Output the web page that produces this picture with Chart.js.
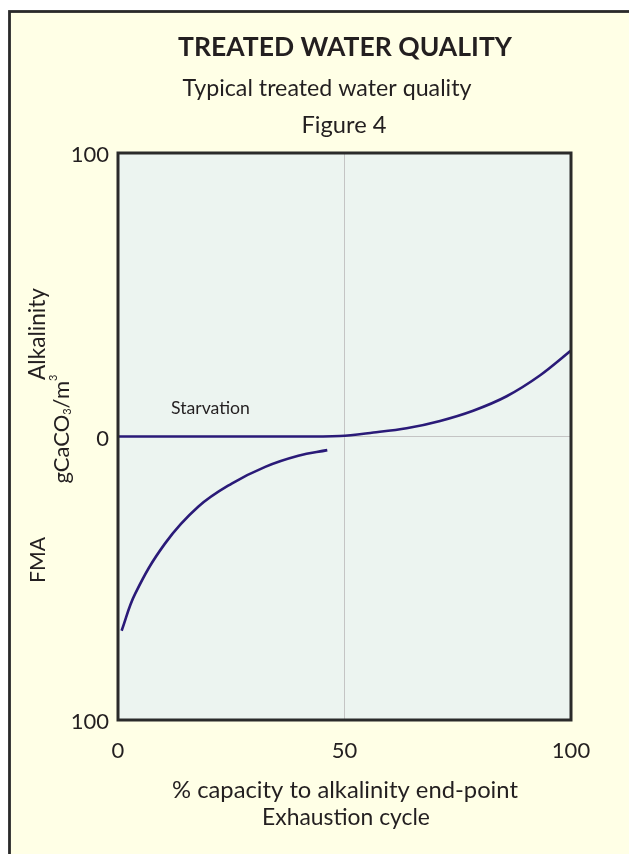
<!DOCTYPE html>
<html>
<head>
<meta charset="utf-8">
<script src="https://cdn.jsdelivr.net/npm/chart.js@4.4.1/dist/chart.umd.min.js"></script>
<style>
  html, body { margin: 0; padding: 0; background: #ffffff; }
  #wrap { width: 629px; height: 854px; }
</style>
</head>
<body>
<div id="wrap"><canvas id="c" width="629" height="854"></canvas></div>
<script>
// ---- Data ----
const alkalinityX = [0, 15, 30, 40, 49, 56.4, 63.7, 71.1, 78.4, 85.8, 93.2, 100];
const alkalinityY = [0, 0, 0, 0, 0.2, 1.4, 2.9, 5.5, 9.1, 14.2, 21.6, 30.3];
const fmaX = [0.8, 3.8, 10.4, 17.7, 25.1, 32.5, 39.8, 46.2];
const fmaY = [-68.5, -55.4, -37.7, -24.8, -16.6, -10.7, -6.8, -4.8];
const xTickValues = [0, 50, 100];
const yTickValues = [-100, 0, 100];

const FONT = 'Lato, "Liberation Sans", sans-serif';
const INK = '#231f20';
const LINE = '#2a1a78';

function pts(xs, ys) { return xs.map((x, i) => ({ x: x, y: ys[i] })); }

function fitFont(ctx, text, weight, targetW) {
  ctx.font = weight + ' 100px ' + FONT;
  const w = ctx.measureText(text).width;
  return weight + ' ' + (100 * targetW / w).toFixed(2) + 'px ' + FONT;
}
function drawCentered(ctx, text, weight, targetW, cx, cy) {
  ctx.font = fitFont(ctx, text, weight, targetW);
  ctx.textAlign = 'center';
  ctx.textBaseline = 'middle';
  ctx.fillText(text, cx, cy);
}

const decor = {
  id: 'decor',
  beforeDraw(chart) {
    const ctx = chart.ctx, a = chart.chartArea;
    ctx.save();
    ctx.fillStyle = '#ffffff';
    ctx.fillRect(0, 0, chart.width, chart.height);
    ctx.fillStyle = '#ffffe6';
    ctx.fillRect(9.5, 11.5, chart.width + 20, chart.height + 20);
    ctx.strokeStyle = '#2a2a2a';
    ctx.lineWidth = 2.8;
    ctx.strokeRect(9.5, 11.5, chart.width + 20, chart.height + 20);
    ctx.fillStyle = '#ecf4f0';
    ctx.fillRect(a.left, a.top, a.right - a.left, a.bottom - a.top);
    ctx.restore();
  },
  afterDraw(chart) {
    const ctx = chart.ctx, a = chart.chartArea;
    ctx.save();
    ctx.strokeStyle = '#2a2a2a';
    ctx.lineWidth = 3;
    ctx.strokeRect(a.left, a.top, a.right - a.left, a.bottom - a.top);

    ctx.fillStyle = INK;
    drawCentered(ctx, 'TREATED WATER QUALITY', 'bold', 334, 345, 47);
    drawCentered(ctx, 'Typical treated water quality', 'normal', 289, 327, 89);
    drawCentered(ctx, 'Figure 4', 'normal', 85, 344, 125);

    drawCentered(ctx, '% capacity to alkalinity end-point', 'normal', 346, 345, 790);
    drawCentered(ctx, 'Exhaustion cycle', 'normal', 168, 346, 818);

    // Starvation label
    ctx.font = fitFont(ctx, 'Starvation', 'normal', 79);
    ctx.textAlign = 'left';
    ctx.textBaseline = 'middle';
    ctx.fillText('Starvation', 171, 408);

    // Rotated y-axis titles
    ctx.save();
    ctx.translate(38, 334);
    ctx.rotate(-Math.PI / 2);
    drawCentered(ctx, 'Alkalinity', 'normal', 92, 0, 0);
    ctx.restore();

    ctx.save();
    ctx.translate(38, 560);
    ctx.rotate(-Math.PI / 2);
    drawCentered(ctx, 'FMA', 'normal', 46, 0, 0);
    ctx.restore();

    // gCaCO3/m3 with sub/superscript
    ctx.save();
    ctx.translate(62, 429);
    ctx.rotate(-Math.PI / 2);
    const mainSize = 22, smallSize = 11;
    const parts = [
      { t: 'gCaCO', s: mainSize, dy: 0 },
      { t: '3', s: smallSize, dy: 5 },
      { t: '/m', s: mainSize, dy: 0 },
      { t: '3', s: smallSize, dy: -9 }
    ];
    let total = 0;
    parts.forEach(p => { ctx.font = p.s + 'px ' + FONT; p.w = ctx.measureText(p.t).width; total += p.w; });
    let x = -total / 2;
    ctx.textAlign = 'left';
    ctx.textBaseline = 'middle';
    parts.forEach(p => { ctx.font = p.s + 'px ' + FONT; ctx.fillText(p.t, x, p.dy); x += p.w; });
    ctx.restore();

    ctx.restore();
  }
};

const ctx = document.getElementById('c').getContext('2d');
new Chart(ctx, {
  type: 'scatter',
  data: {
    datasets: [
      { label: 'Alkalinity', data: pts(alkalinityX, alkalinityY), showLine: true, borderColor: LINE, borderWidth: 2.6, pointRadius: 0, cubicInterpolationMode: 'monotone', fill: false },
      { label: 'FMA', data: pts(fmaX, fmaY), showLine: true, borderColor: LINE, borderWidth: 2.6, pointRadius: 0, tension: 0.4, fill: false }
    ]
  },
  options: {
    responsive: false,
    animation: false,
    devicePixelRatio: 1,
    layout: { padding: { left: 0, right: 58, top: 153, bottom: 0 } },
    plugins: { legend: { display: false }, tooltip: { enabled: false }, title: { display: false } },
    scales: {
      x: {
        type: 'linear', min: 0, max: 100,
        afterBuildTicks: s => { s.ticks = xTickValues.map(v => ({ value: v })); },
        afterFit: s => { s.height = 134; },
        ticks: { color: INK, font: { family: FONT, size: 22 }, padding: 18, maxRotation: 0, callback: v => String(v) },
        grid: { drawTicks: false, color: c => (c.tick && c.tick.value === 50 ? '#c4c4c4' : 'rgba(0,0,0,0)'), lineWidth: 1 },
        border: { display: false }
      },
      y: {
        type: 'linear', min: -100, max: 100,
        afterBuildTicks: s => { s.ticks = yTickValues.map(v => ({ value: v })); },
        afterFit: s => { s.width = 118; },
        ticks: { color: INK, font: { family: FONT, size: 22 }, padding: 9, labelOffset: 2, callback: v => String(Math.abs(v)) },
        grid: { drawTicks: false, color: c => (c.tick && c.tick.value === 0 ? '#c4c4c4' : 'rgba(0,0,0,0)'), lineWidth: 1 },
        border: { display: false }
      }
    }
  },
  plugins: [decor]
});
</script>
</body>
</html>
